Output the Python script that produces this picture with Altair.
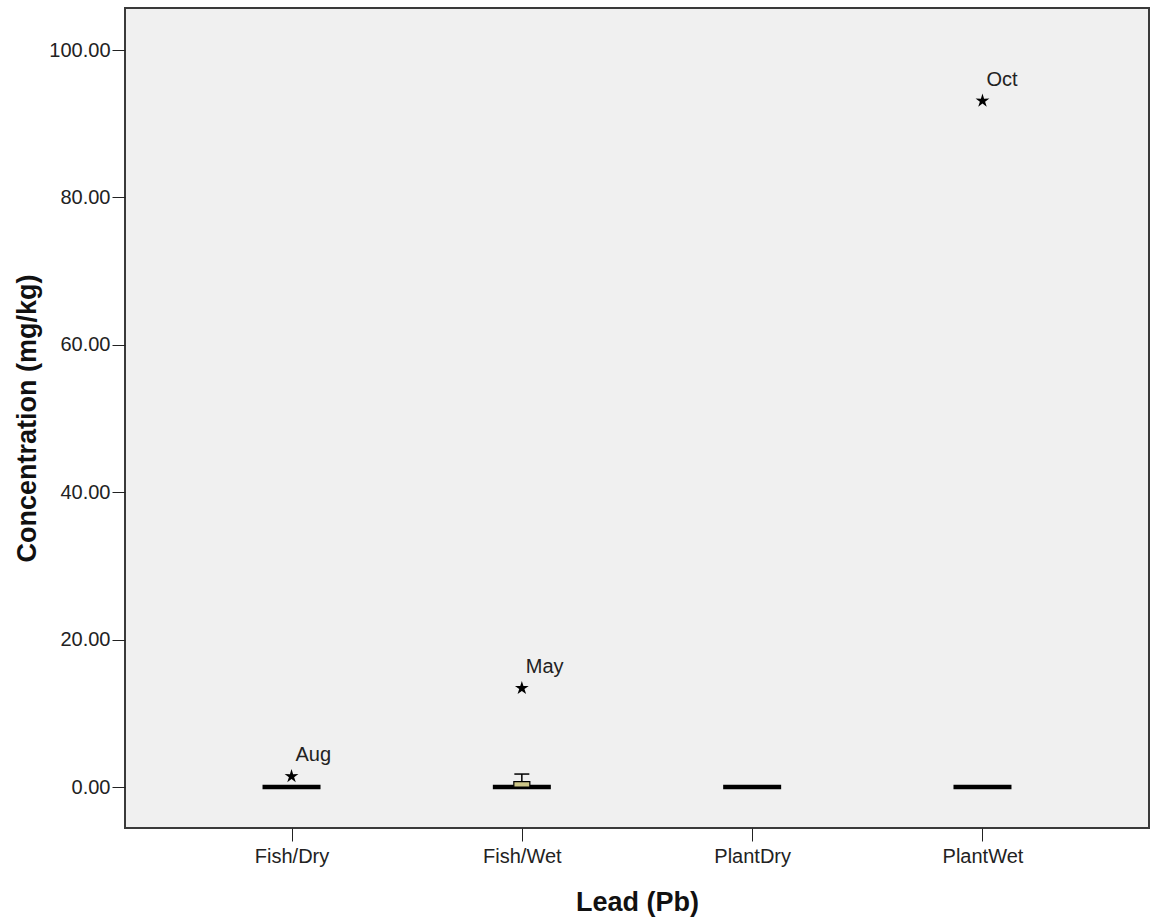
import altair as alt
import pandas as pd

FONT = "Liberation Sans"

categories = ["Fish/Dry", "Fish/Wet", "PlantDry", "PlantWet"]
q1 = [0.0, 0.0, 0.0, 0.0]
median = [0.0, 0.0, 0.0, 0.0]
q3 = [0.0, 0.72, 0.0, 0.0]
whisker_hi = [0.0, 1.76, 0.0, 0.0]

out_cat = ["Fish/Dry", "Fish/Wet", "PlantWet"]
out_val = [1.45, 13.4, 93.1]
out_lab = ["Aug", "May", "Oct"]

y_ticks = [0, 20, 40, 60, 80, 100]

STAR = ("M0,-1 L0.22,-0.3 L0.951,-0.309 L0.36,0.117 L0.588,0.809 L0,0.38 "
        "L-0.588,0.809 L-0.36,0.117 L-0.951,-0.309 L-0.22,-0.3 Z")

box = pd.DataFrame({"cat": categories, "q1": q1, "median": median, "q3": q3, "hi": whisker_hi})
outl = pd.DataFrame({"cat": out_cat, "val": out_val, "lab": out_lab})

xscale = alt.Scale(type="point", domain=categories, padding=0.723)
yscale = alt.Scale(domain=[-5.56, 105.7], nice=False, zero=False)

x_axis = alt.Axis(title="Lead (Pb)", labelAngle=0, tickSize=13, labelPadding=5,
                  titlePadding=23, domain=False, tickColor="#222",
                  labelColor="#222", titleColor="#111", orient="bottom")
y_axis = alt.Axis(title="Concentration (mg/kg)", values=y_ticks, format=".2f", grid=False,
                  tickSize=13, labelPadding=2, titlePadding=7, domain=False,
                  tickColor="#222", labelColor="#222", titleColor="#111", orient="left")

X = alt.X("cat:N", scale=xscale, axis=x_axis)

med = alt.Chart(box).mark_tick(color="black", size=58, thickness=4.5, opacity=1).encode(
    x=X, y=alt.Y("median:Q", scale=yscale, axis=y_axis)
)
whisker = alt.Chart(box).transform_filter("datum.hi > datum.q3").mark_rule(
    color="black", strokeWidth=1.5
).encode(x=X, y=alt.Y("q3:Q", scale=yscale), y2="hi:Q")
cap = alt.Chart(box).transform_filter("datum.hi > datum.q3").mark_tick(
    color="black", size=15, thickness=1.5, opacity=1
).encode(x=X, y=alt.Y("hi:Q", scale=yscale))
boxes = alt.Chart(box).transform_filter("datum.q3 > datum.q1").mark_bar(
    size=16, fill="#cdc688", stroke="black", strokeWidth=1.2, opacity=1
).encode(x=X, y=alt.Y("q1:Q", scale=yscale), y2="q3:Q")

pts = alt.Chart(outl).mark_point(shape=STAR, filled=True, color="black", size=210, opacity=1).encode(
    x=X, y=alt.Y("val:Q", scale=yscale)
)
labs = alt.Chart(outl).mark_text(align="left", baseline="middle", dx=4, dy=-21,
                                 font=FONT, fontSize=20, color="#222").encode(
    x=X, y=alt.Y("val:Q", scale=yscale), text="lab:N"
)

chart = alt.layer(med, whisker, boxes, cap, pts, labs).properties(
    width=1024, height=820,
    padding={"left": 125, "top": 8, "right": 3, "bottom": 94},
    autosize="none",
    background="white",
).configure_view(
    fill="#f0f0f0", stroke="#3a3a3a", strokeWidth=2
).configure_axis(
    labelFont=FONT, titleFont=FONT, labelFontSize=20, titleFontSize=27, titleFontWeight="bold"
)

chart.save("out.html", embed_options={"renderer": "svg", "actions": False})
